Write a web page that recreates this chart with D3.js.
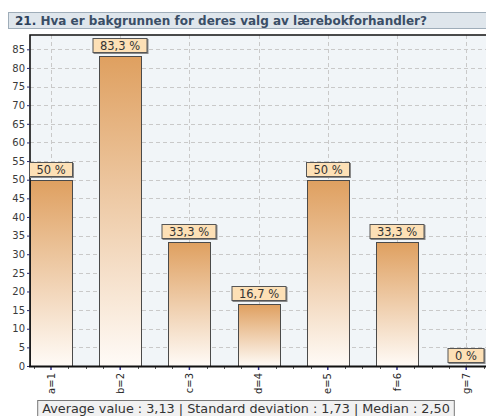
<!DOCTYPE html>
<html>
<head>
<meta charset="utf-8">
<script src="https://cdn.jsdelivr.net/npm/d3@7"></script>
<style>
  html, body { margin: 0; padding: 0; background: #fff; }
  svg { display: block; }
  text { font-family: "DejaVu Sans", Verdana, sans-serif; }
</style>
</head>
<body>
<svg id="chart" width="486" height="416"></svg>
<script>
// Survey question and answer shares (percent of respondents)
const titleNumber = "21.";
const titleText = "Hva er bakgrunnen for deres valg av lærebokforhandler?";
const categories = ["a=1", "b=2", "c=3", "d=4", "e=5", "f=6", "g=7"];
const shares = [50, 83.3, 33.3, 16.7, 50, 33.3, 0];
const yTicks = [0, 5, 10, 15, 20, 25, 30, 35, 40, 45, 50, 55, 60, 65, 70, 75, 80, 85];
const statsText = "Average value : 3,13 | Standard deviation : 1,73 | Median : 2,50";

const svg = d3.select("#chart");

// Layout
const plot = { left: 30, top: 35, right: 492, bottom: 366 };

const x = d3.scaleBand()
  .domain(categories)
  .range([16.4, 16.4 + 7 * 69.2])
  .paddingInner(0.393)
  .paddingOuter(0.1965);

const y = d3.scaleLinear()
  .domain([0, 85])
  .range([plot.bottom, 49.3]);

const fmt = v => (Math.round(v * 10) / 10).toString().replace(".", ",") + " %";

// Gradient for bars: tan at top fading to near-white
const defs = svg.append("defs");
const grad = defs.append("linearGradient")
  .attr("id", "barGrad").attr("x1", 0).attr("y1", 0).attr("x2", 0).attr("y2", 1);
grad.append("stop").attr("offset", "0%").attr("stop-color", "#dfa060");
grad.append("stop").attr("offset", "100%").attr("stop-color", "#fffbf7");

// Title bar
svg.append("rect")
  .attr("x", 8.5).attr("y", 12.5).attr("width", 490).attr("height", 16)
  .attr("fill", "#dfe6ec").attr("stroke", "#9fadb9");
const title = svg.append("text")
  .attr("x", 15).attr("y", 25)
  .attr("font-size", 12).attr("font-weight", "bold").attr("fill", "#3a4e66");
title.append("tspan").attr("fill", "#2c3f58").text(titleNumber);
title.append("tspan").text(" " + titleText);

// Plot background
svg.append("rect")
  .attr("x", plot.left).attr("y", plot.top)
  .attr("width", plot.right - plot.left).attr("height", plot.bottom - plot.top)
  .attr("fill", "#f1f5f8");

// Horizontal gridlines
svg.append("g")
  .selectAll("line")
  .data(yTicks.filter(d => d > 0))
  .join("line")
  .attr("x1", plot.left).attr("x2", plot.right)
  .attr("y1", d => Math.round(y(d)) + 0.5).attr("y2", d => Math.round(y(d)) + 0.5)
  .attr("stroke", "#c9c9c9").attr("stroke-dasharray", "4,3");

// Vertical gridlines at category centres
svg.append("g")
  .selectAll("line")
  .data(categories)
  .join("line")
  .attr("x1", d => Math.round(x(d) + x.bandwidth() / 2) + 0.5)
  .attr("x2", d => Math.round(x(d) + x.bandwidth() / 2) + 0.5)
  .attr("y1", plot.top).attr("y2", plot.bottom)
  .attr("stroke", "#c9c9c9").attr("stroke-dasharray", "4,3");

// Bars
svg.append("g")
  .selectAll("rect")
  .data(shares.map((v, i) => ({ cat: categories[i], v })).filter(d => d.v > 0))
  .join("rect")
  .attr("x", d => Math.round(x(d.cat)) + 0.5)
  .attr("y", d => Math.round(y(d.v)) + 0.5)
  .attr("width", Math.round(x.bandwidth()))
  .attr("height", d => Math.round(y(0)) - Math.round(y(d.v)))
  .attr("fill", "url(#barGrad)")
  .attr("stroke", "#4a4a4a").attr("stroke-width", 1);

// Plot frame (top and left)
svg.append("path")
  .attr("d", `M${plot.left},${plot.bottom} V${plot.top} H${plot.right}`)
  .attr("fill", "none").attr("stroke", "#111").attr("stroke-width", 1.6);

// Y axis
const yAxis = d3.axisLeft(y).tickValues(yTicks).tickSize(3).tickPadding(2);
const yg = svg.append("g").attr("transform", `translate(${plot.left},0)`).call(yAxis);
yg.select(".domain").remove();
yg.selectAll(".tick line").attr("stroke", "#2a2a6a");
yg.selectAll(".tick text").attr("font-size", 10).attr("fill", "#3a3a3a")
  .attr("font-family", "DejaVu Sans, Verdana, sans-serif");

// X axis
const xAxis = d3.axisBottom(x).tickSize(4).tickPadding(0);
const xg = svg.append("g").attr("transform", `translate(0,${plot.bottom})`).call(xAxis);
xg.select(".domain").remove();
xg.selectAll(".tick line").attr("stroke", "#2a2a8a").attr("stroke-width", 1.5);
xg.selectAll(".tick text")
  .attr("font-size", 10).attr("fill", "#2a2a2a")
  .attr("font-family", "DejaVu Sans, Verdana, sans-serif")
  .attr("text-anchor", "end")
  .attr("dy", "0.35em")
  .attr("transform", "translate(0,7) rotate(-90)")
  .attr("x", 0).attr("y", 0);

// Minor ticks between categories (quarter steps)
const step = x.step();
const minor = [];
categories.forEach(c => {
  const cx = x(c) + x.bandwidth() / 2;
  [-0.5, -0.25, 0.25].forEach(f => minor.push(cx + f * step));
});
svg.append("g").selectAll("line").data(minor.filter(v => v > plot.left)).join("line")
  .attr("x1", d => Math.round(d) + 0.5).attr("x2", d => Math.round(d) + 0.5)
  .attr("y1", plot.bottom).attr("y2", plot.bottom + 3)
  .attr("stroke", "#555");

// Bottom axis line
svg.append("line")
  .attr("x1", plot.left - 1).attr("x2", plot.right)
  .attr("y1", plot.bottom + 0.5).attr("y2", plot.bottom + 0.5)
  .attr("stroke", "#111").attr("stroke-width", 2);

// Value labels in boxes above each bar
const lab = svg.append("g")
  .selectAll("g")
  .data(shares.map((v, i) => ({ cat: categories[i], v })))
  .join("g")
  .attr("transform", d => `translate(${Math.round(x(d.cat) + x.bandwidth() / 2)},${Math.round(y(d.v)) - 3})`);
lab.each(function(d) {
  const g = d3.select(this);
  const t = g.append("text")
    .attr("x", 0).attr("y", -3)
    .attr("text-anchor", "middle")
    .attr("font-size", 11.5).attr("fill", "#333")
    .text(fmt(d.v));
  const w = Math.round(t.node().getComputedTextLength() + 15);
  g.insert("rect", "text")
    .attr("x", -w / 2 + 1).attr("y", -15 + 1).attr("width", w).attr("height", 15)
    .attr("fill", "#8a8a8a");
  g.insert("rect", "text")
    .attr("x", -w / 2 + 0.5).attr("y", -15 + 0.5).attr("width", w - 1).attr("height", 14)
    .attr("fill", "#fde0b6").attr("stroke", "#555");
});

// Summary statistics box
const stats = svg.append("g");
const st = stats.append("text")
  .attr("x", 246).attr("y", 413)
  .attr("text-anchor", "middle")
  .attr("font-size", 12.8).attr("fill", "#333")
  .text(statsText);
const sw = st.node().getComputedTextLength();
stats.insert("rect", "text")
  .attr("x", 246 - sw / 2 - 4.5).attr("y", 400.5)
  .attr("width", sw + 9).attr("height", 20)
  .attr("fill", "#f1f1f1").attr("stroke", "#777");
</script>
</body>
</html>
